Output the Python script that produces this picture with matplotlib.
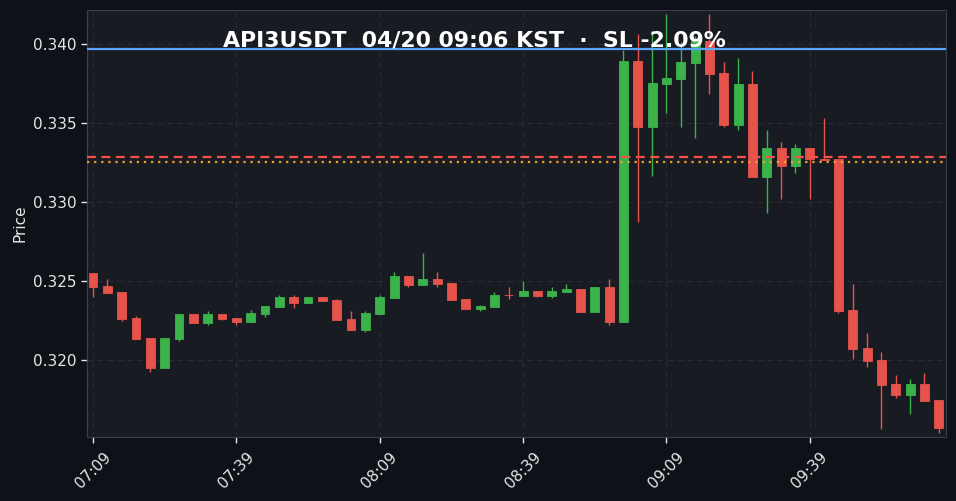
import numpy as np
import matplotlib
matplotlib.use("Agg")
import matplotlib.pyplot as plt

# 3-minute candles, API3USDT
opens = [0.32551, 0.32468, 0.32430, 0.32266, 0.32139, 0.31951, 0.32133, 0.32291, 0.32234, 0.32291,
         0.32266, 0.32241, 0.32291, 0.32335, 0.32399, 0.32361, 0.32399, 0.32380, 0.32260, 0.32190,
         0.32291, 0.32392, 0.32532, 0.32475, 0.32513, 0.32487, 0.32386, 0.32323, 0.32335, 0.32412,
         0.32405, 0.32437, 0.32405, 0.32430, 0.32449, 0.32304, 0.32462, 0.32242, 0.33892, 0.33477,
         0.33749, 0.33779, 0.33882, 0.34020, 0.33817, 0.33489, 0.33747, 0.33160, 0.33342, 0.33230,
         0.33342, 0.33272, 0.33272, 0.32317, 0.32076, 0.32000, 0.31848, 0.31780, 0.31848, 0.31747]
highs = [0.32551, 0.32511, 0.32430, 0.32277, 0.32139, 0.32139, 0.32291, 0.32291, 0.32310, 0.32291,
         0.32266, 0.32317, 0.32342, 0.32411, 0.32411, 0.32399, 0.32399, 0.32386, 0.32310, 0.32310,
         0.32411, 0.32555, 0.32532, 0.32675, 0.32555, 0.32487, 0.32386, 0.32348, 0.32430, 0.32460,
         0.32500, 0.32437, 0.32460, 0.32479, 0.32449, 0.32462, 0.32511, 0.33962, 0.34061, 0.34080,
         0.34188, 0.34015, 0.34050, 0.34188, 0.33888, 0.33913, 0.33831, 0.33458, 0.33382, 0.33369,
         0.33342, 0.33530, 0.33272, 0.32479, 0.32169, 0.32049, 0.31903, 0.31878, 0.31916, 0.31747]
lows = [0.32397, 0.32424, 0.32245, 0.32133, 0.31922, 0.31947, 0.32122, 0.32234, 0.32223, 0.32253,
        0.32222, 0.32241, 0.32272, 0.32335, 0.32327, 0.32361, 0.32373, 0.32253, 0.32190, 0.32175,
        0.32291, 0.32392, 0.32464, 0.32475, 0.32464, 0.32380, 0.32323, 0.32312, 0.32335, 0.32384,
        0.32405, 0.32397, 0.32394, 0.32430, 0.32304, 0.32304, 0.32223, 0.32242, 0.32872, 0.33165,
        0.33561, 0.33473, 0.33403, 0.33682, 0.33473, 0.33456, 0.33160, 0.32929, 0.33017, 0.33182,
        0.33017, 0.33265, 0.32296, 0.32004, 0.31954, 0.31561, 0.31758, 0.31656, 0.31742, 0.31536]
closes = [0.32464, 0.32424, 0.32260, 0.32133, 0.31951, 0.32139, 0.32291, 0.32234, 0.32291, 0.32260,
          0.32241, 0.32298, 0.32342, 0.32399, 0.32361, 0.32399, 0.32373, 0.32253, 0.32190, 0.32298,
          0.32399, 0.32532, 0.32475, 0.32513, 0.32481, 0.32380, 0.32323, 0.32342, 0.32411, 0.32410,
          0.32437, 0.32405, 0.32437, 0.32449, 0.32304, 0.32462, 0.32241, 0.33892, 0.33477, 0.33753,
          0.33785, 0.33886, 0.34020, 0.33812, 0.33489, 0.33747, 0.33160, 0.33342, 0.33230, 0.33342,
          0.33270, 0.33265, 0.32310, 0.32070, 0.31996, 0.31844, 0.31780, 0.31848, 0.31742, 0.31572]

tick_pos = [0, 10, 20, 30, 40, 50]
tick_labels = ["07:09", "07:39", "08:09", "08:39", "09:09", "09:39"]

tp_price = 0.33968   # blue
entry_price = 0.33287  # red dashed
sl_price = 0.33254   # orange dotted

title = "API3USDT  04/20 09:06 KST  \u00b7  SL -2.09%"

UP = "#3bb34a"
DOWN = "#e5534b"

fig = plt.figure(figsize=(9.56, 5.01), dpi=100, facecolor="#0e1117")
ax = fig.add_axes([0.091, 0.128, 0.8985, 0.852])
ax.set_facecolor("#181b22")

x = np.arange(len(opens))
o = np.array(opens); h = np.array(highs); l = np.array(lows); c = np.array(closes)
up = c >= o
cols = np.where(up, UP, DOWN)

ax.vlines(x, l, h, colors=cols, linewidth=1.0, zorder=3)
bottom = np.minimum(o, c)
height = np.maximum(np.abs(c - o), 0.00004)
ax.bar(x, height, bottom=bottom, width=0.62, color=cols, edgecolor=cols,
       linewidth=0.6, zorder=4)

ax.axhline(tp_price, color="#58a6ff", linewidth=1.6, zorder=5)
ax.axhline(entry_price, color="#f85149", linewidth=1.6, linestyle=(0, (4, 2.5)), zorder=5)
ax.axhline(sl_price, color="#f0a030", linewidth=1.6, linestyle=(0, (1, 2.2)), zorder=5)

ax.set_xlim(-0.42, 59.5)
ax.set_ylim(0.31513, 0.34215)
ax.set_xticks(tick_pos)
ax.set_xticklabels(tick_labels, rotation=45, ha="center", rotation_mode="default")
ax.set_yticks([0.320, 0.325, 0.330, 0.335, 0.340])
ax.set_yticklabels(["0.320", "0.325", "0.330", "0.335", "0.340"])

ax.grid(True, color="#282c34", linestyle=(0, (5, 4)), linewidth=0.8)
ax.set_axisbelow(True)
for s in ax.spines.values():
    s.set_color("#3a3f48")
ax.tick_params(colors="#e6e6e6", labelsize=11, length=4, width=1)
ax.tick_params(axis="x", pad=5)
ax.set_ylabel("Price", color="#e6e6e6", fontsize=11)

fig.text(0.496, 1 - 41 / 501, title, color="white", fontsize=15.8, fontweight="bold",
         ha="center", va="center", zorder=10)

fig.savefig("out.png", dpi=100, facecolor=fig.get_facecolor())
